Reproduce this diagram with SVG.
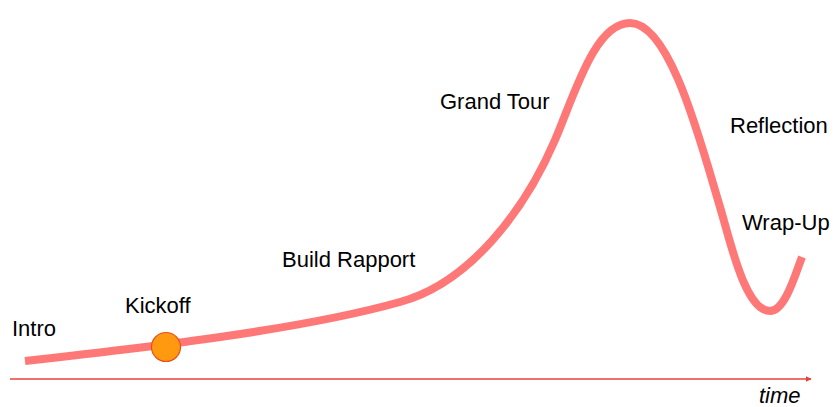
<svg xmlns="http://www.w3.org/2000/svg" width="835" height="407" viewBox="0 0 835 407">
<style>
.lbl{font-family:"Liberation Sans",Arial,sans-serif;font-size:22px;fill:#000}
.curve{fill:none;stroke:#ff7878;stroke-width:8;stroke-linecap:butt;stroke-linejoin:round}
.axis{fill:none;stroke:#e8403a;stroke-width:1.6}
</style>
<defs>
<marker id="arr" viewBox="0 0 10 10" refX="9" refY="5" markerWidth="6" markerHeight="6" orient="auto" markerUnits="userSpaceOnUse">
<path d="M0,0 L10,5 L0,10 z" fill="#e8403a"/>
</marker>
</defs>
<rect width="835" height="407" fill="#fff"/>
<g id="connectors">
<path id="axis" class="axis" d="M10,379 L811,379" marker-end="url(#arr)"/>
<path id="curve" class="curve" d="M25,361 C150,347 300,330 400,302 C470,283 525,210 555,140 C575,93 595,23 630,23 C670,23 700,140 720,207 C730,240 745,311 770,311 C785,311 795,275 802,257"/>
</g>
<g id="kickoff-marker">
<circle cx="166" cy="347" r="14.5" fill="#ff9a10" stroke="#e8501a" stroke-width="1.2"/>
</g>
<g id="intro"><text class="lbl" x="12" y="336">Intro</text></g>
<g id="kickoff"><text class="lbl" x="125" y="313">Kickoff</text></g>
<g id="build-rapport"><text class="lbl" x="282" y="267">Build Rapport</text></g>
<g id="grand-tour"><text class="lbl" x="440" y="109">Grand Tour</text></g>
<g id="reflection"><text class="lbl" x="730" y="133">Reflection</text></g>
<g id="wrap-up"><text class="lbl" x="742" y="230">Wrap-Up</text></g>
<g id="time"><text class="lbl" x="759" y="403" font-style="italic">time</text></g>
</svg>
